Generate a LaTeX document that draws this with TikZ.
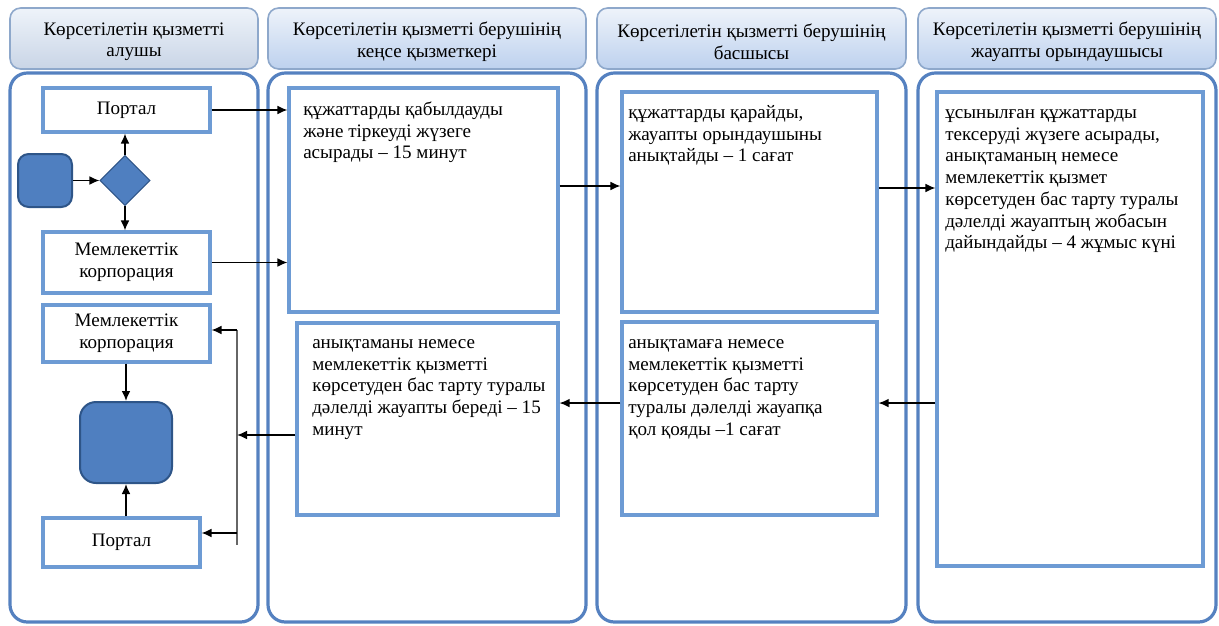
\documentclass[tikz,border=0pt]{standalone}
\usepackage{fontspec}
\setmainfont{Liberation Serif}
\usetikzlibrary{shapes.geometric,arrows.meta}
\definecolor{lanec}{HTML}{5581C0}
\definecolor{boxc}{HTML}{6D9BD4}
\definecolor{hdrc}{HTML}{8EA8CB}
\definecolor{hdrtop}{HTML}{EEF3FA}
\definecolor{hdrbot}{HTML}{BDD1EE}
\definecolor{hdrbotg}{HTML}{C9D5E6}
\definecolor{termfill}{HTML}{4F7FC0}
\definecolor{termdraw}{HTML}{2E5588}
\tikzset{
  sz/.style 2 args={minimum width=#1*0.75pt, minimum height=#2*0.75pt},
  txtf/.style={font=\fontsize{14.3}{16.3}\selectfont},
  hdr/.style={draw=hdrc, line width=1.2pt, rounded corners=8pt, top color=hdrtop, bottom color=hdrbot, inner sep=0pt},
  htxt/.style={txtf, align=center, inner sep=0pt, yshift=-2.5pt},
  lane/.style={draw=lanec, line width=2.4pt, rounded corners=13pt, inner sep=0pt},
  box/.style={draw=boxc, line width=2.3pt, inner sep=0pt, align=center, txtf},
  term/.style={draw=termdraw, line width=1.5pt, fill=termfill, rounded corners=#1, inner sep=0pt},
  dia/.style={diamond, draw=termdraw, line width=0.8pt, fill=termfill, inner sep=0pt, aspect=1},
  btxt/.style={anchor=north west, inner sep=0pt, align=left, txtf},
  arr/.style={-{Latex[length=7.5pt,width=6.5pt]}, line width=1pt, black},
  bus/.style={line width=1pt, black!60}
}
\begin{document}
\begin{tikzpicture}[x=0.75pt,y=-0.75pt]
\useasboundingbox (0,0) rectangle (1219,625);
% headers
\node[hdr, bottom color=hdrbotg, sz={248}{61}] (h1) at (134,38.5) {};
\node[hdr, sz={318}{61}] (h2) at (427,38.5) {};
\node[hdr, sz={309}{61}] (h3) at (751.5,38.5) {};
\node[hdr, sz={298}{61}] (h4) at (1067,38.5) {};
\node[htxt] (h1t) at (h1.center) {Көрсетілетін қызметті\\алушы};
\node[htxt] (h2t) at (h2.center) {Көрсетілетін қызметті берушінің\\кеңсе қызметкері};
\node[htxt] (h3t) at (h3.center) {Көрсетілетін қызметті берушінің\\басшысы};
\node[htxt] (h4t) at (h4.center) {Көрсетілетін қызметті берушінің\\жауапты орындаушысы};
% lanes
\node[lane, sz={248}{549}] (l1) at (134,347.5) {};
\node[lane, sz={318}{549}] (l2) at (427,347.5) {};
\node[lane, sz={309}{549}] (l3) at (751.5,347.5) {};
\node[lane, sz={298}{549}] (l4) at (1067,347.5) {};
% lane 1
\node[box, sz={167}{44}] (P1) at (126.5,110) {Портал};
\node[term=8pt, sz={54}{53}] (start) at (45,180.5) {};
\node[dia, sz={50}{50}] (dia) at (125,180.5) {};
\node[box, sz={167}{61}] (MK1) at (126.5,262.5) {Мемлекеттік\\корпорация};
\node[box, sz={167}{57}] (MK2) at (126.5,333.5) {Мемлекеттік\\корпорация};
\node[term=12pt, sz={92}{81}] (end) at (126,442.5) {};
\node[box, sz={157}{49}] (P2) at (121.5,542.5) {Портал};
% lane 2-4 boxes
\node[box, sz={269}{224}] (B21) at (423.5,200) {};
\node[box, sz={261}{192}] (B22) at (427.5,419) {};
\node[box, sz={255}{220}] (B31) at (749.5,202) {};
\node[box, sz={255}{193}] (B32) at (749.5,418.5) {};
\node[box, sz={266}{474}] (B41) at (1070,329) {};
% texts
\node[btxt] (t21) at (303,100) {\strut құжаттарды қабылдауды\\және тіркеуді жүзеге\\асырады – 15 минут};
\node[btxt] (t22) at (312,333) {\strut анықтаманы немесе\\мемлекеттік қызметті\\көрсетуден бас тарту туралы\\дәлелді жауапты береді – 15\\минут};
\node[btxt] (t31) at (628,103) {\strut құжаттарды қарайды,\\жауапты орындаушыны\\анықтайды – 1 сағат};
\node[btxt] (t32) at (628,333) {\strut анықтамаға немесе\\мемлекеттік қызметті\\көрсетуден бас тарту\\туралы дәлелді жауапқа\\қол қояды –1 сағат};
\node[btxt] (t41) at (945,103) {\strut ұсынылған құжаттарды\\тексеруді жүзеге асырады,\\анықтаманың немесе\\мемлекеттік қызмет\\көрсетуден бас тарту туралы\\дәлелді жауаптың жобасын\\дайындайды – 4 жұмыс күні};
% connectors lane 1
\draw[arr] (start.east) -- (dia.west);
\draw[arr] (dia.north) -- (dia.north |- P1.south);
\draw[arr] (dia.south) -- (dia.south |- MK1.north);
\draw[arr] (P1.east) -- (P1.east -| B21.west);
\draw[arr] (MK1.east) -- (MK1.east -| B21.west);
\draw[arr] ([yshift=10.5pt]B21.east) -- ([yshift=10.5pt]B21.east -| B31.west);
\draw[arr] ([yshift=10.5pt]B31.east) -- ([yshift=10.5pt]B31.east -| B41.west);
\draw[arr] ([yshift=11.6pt]B32.east -| B41.west) -- ([yshift=11.6pt]B32.east);
\draw[arr] ([yshift=11.6pt]B32.west) -- ([yshift=11.6pt]B32.west -| B22.east);
% bus
\coordinate (busT) at (237,330);
\coordinate (busP) at (237,533);
\coordinate (busB) at (237,545);
\draw[bus] (busT) -- (busB);
\draw[arr] ([yshift=-12pt]B22.west) -- ([yshift=-12pt]B22.west -| busT);
\draw[arr] (busT) -- (busT -| MK2.east);
\draw[arr] (busP) -- (busP -| P2.east);
\draw[arr] (end.north |- MK2.south) -- (end.north);
\draw[arr] (end.south |- P2.north) -- (end.south);
\end{tikzpicture}
\end{document}
